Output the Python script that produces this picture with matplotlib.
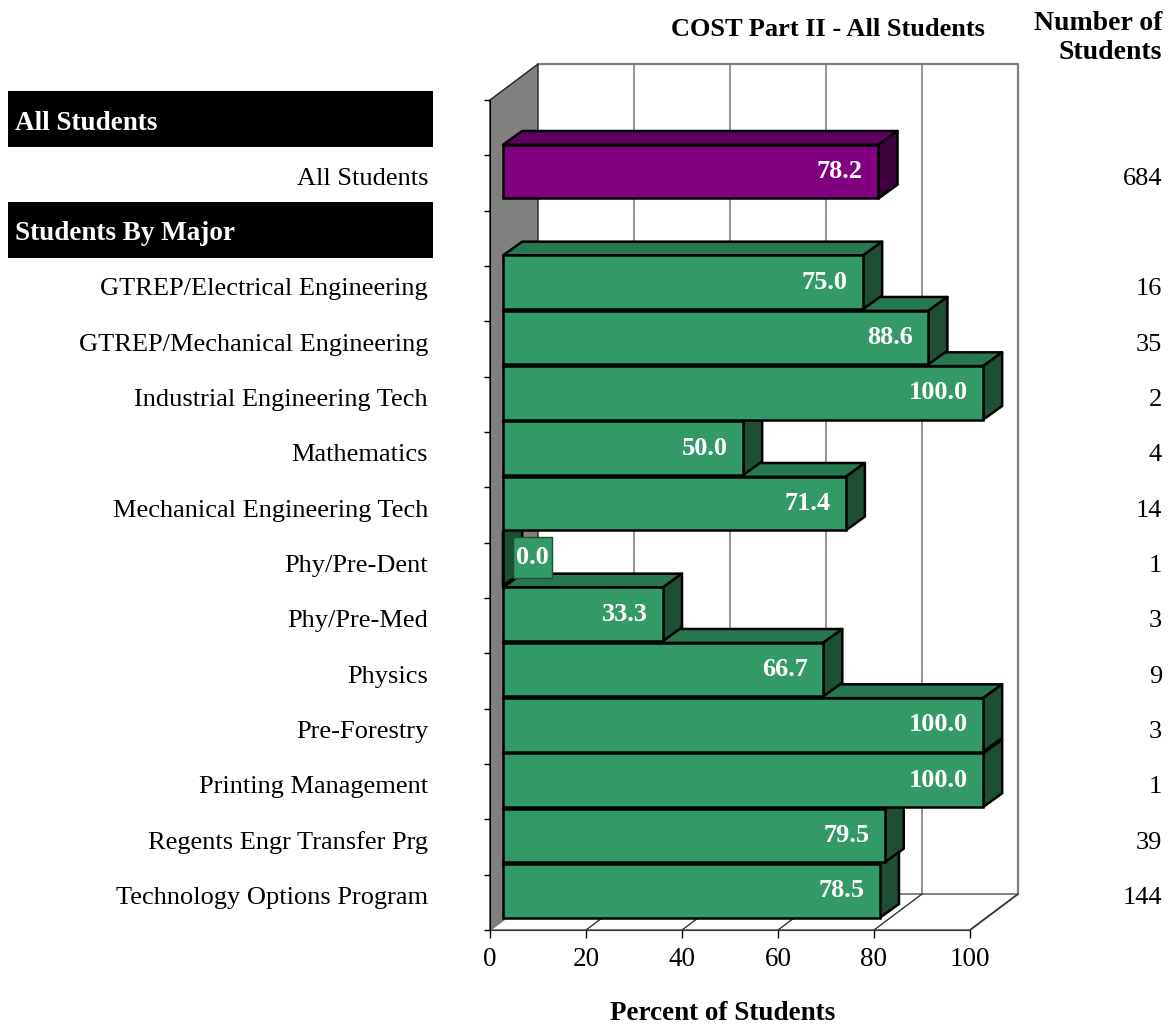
import matplotlib.pyplot as plt
from matplotlib.patches import Polygon, Rectangle

plt.rcParams['font.family'] = ['Liberation Serif', 'DejaVu Serif']

title = "COST Part II - All Students"
group_names = ["All Students", "Students By Major"]

overall_label = "All Students"
overall_pct = 78.2
overall_n = 684

majors = ["GTREP/Electrical Engineering", "GTREP/Mechanical Engineering",
          "Industrial Engineering Tech", "Mathematics",
          "Mechanical Engineering Tech", "Phy/Pre-Dent", "Phy/Pre-Med",
          "Physics", "Pre-Forestry", "Printing Management",
          "Regents Engr Transfer Prg", "Technology Options Program"]
major_pct = [75.0, 88.6, 100.0, 50.0, 71.4, 0.0, 33.3, 66.7, 100.0, 100.0, 79.5, 78.5]
major_n = [16, 35, 2, 4, 14, 1, 3, 9, 3, 1, 39, 144]

x_ticks = [0, 20, 40, 60, 80, 100]

# layout of the rows, top to bottom
rows = [("header", group_names[0], None, None, None),
        ("bar", overall_label, overall_pct, overall_n, "purple")]
rows.append(("header", group_names[1], None, None, None))
for name, p, n in zip(majors, major_pct, major_n):
    rows.append(("bar", name, p, n, "green"))
n_rows = len(rows)

colors = {
    "purple": ("#800080", "#5f005f", "#3f003f"),
    "green": ("#339966", "#277750", "#1d4f35"),
}

# 3d depth (data units)
DX, DY = 10, -0.65
BX0, BY0 = 2.7, -0.19
BDX, BDY = 4.0, -0.25
BH = 0.97

fig = plt.figure(figsize=(11.7, 10.24), dpi=100)
ax = fig.add_axes([490 / 1170, 1 - 930 / 1024, 480 / 1170, 830 / 1024])
ax.set_xlim(0, 100)
ax.set_ylim(n_rows, 0)
ax.patch.set_visible(False)
for s in ["top", "right"]:
    ax.spines[s].set_visible(False)
ax.spines["left"].set_color("black")
ax.spines["bottom"].set_color("#333333")

gray = "#808080"

# walls and floor
ax.add_patch(Rectangle((DX, DY), 100, n_rows, facecolor="white", edgecolor="none", zorder=0, clip_on=False))
ax.plot([DX, 100 + DX, 100 + DX], [DY, DY, n_rows + DY], color=gray, lw=1.6, zorder=0.5, clip_on=False)
for v in x_ticks[1:-1]:
    ax.plot([v + DX, v + DX], [DY, n_rows + DY], color=gray, lw=1.2, zorder=0.5, clip_on=False)
ax.add_patch(Polygon([(0, 0), (DX, DY), (DX, n_rows + DY), (0, n_rows)],
                     facecolor=gray, edgecolor="#222222", lw=1, zorder=0.6, clip_on=False))
ax.add_patch(Polygon([(0, n_rows), (100, n_rows), (100 + DX, n_rows + DY), (DX, n_rows + DY)],
                     facecolor="white", edgecolor=gray, lw=1.4, zorder=0.6, clip_on=False))
for v in x_ticks[1:]:
    ax.plot([v, v + DX], [n_rows, n_rows + DY], color="#333333", lw=1, zorder=0.7, clip_on=False)

# bars, bottom row first so upper bars sit on top
for i in range(n_rows - 1, -1, -1):
    kind, name, v, n, col = rows[i]
    if kind != "bar":
        continue
    front, top, side = colors[col]
    y0, y1 = i + BY0, i + BY0 + BH
    x0, x1 = BX0, BX0 + v
    ax.add_patch(Polygon([(x0, y0), (x1, y0), (x1 + BDX, y0 + BDY), (x0 + BDX, y0 + BDY)],
                         facecolor=top, edgecolor="black", lw=1.8, joinstyle="round", zorder=3, clip_on=False))
    ax.add_patch(Polygon([(x1, y0), (x1 + BDX, y0 + BDY), (x1 + BDX, y1 + BDY), (x1, y1)],
                         facecolor=side, edgecolor="black", lw=1.8, joinstyle="round", zorder=3, clip_on=False))
    ax.add_patch(Rectangle((x0, y0), v, BH, facecolor=front, edgecolor="black", lw=1.8, zorder=3, clip_on=False))
    if v > 5:
        ax.text(x1 - 3.2, (y0 + y1) / 2, f"{v:.1f}", color="white", fontsize=19, fontweight="bold",
                ha="right", va="center", zorder=4)
    else:
        # label box for an empty bar
        ax.add_patch(Rectangle((x1 + 2.1, i - 0.1), 8.1, 0.74, facecolor=front, edgecolor="#1d4f35",
                               lw=1, zorder=4, clip_on=False))
        ax.text(x1 + 2.1 + 4.05, i - 0.1 + 0.37, f"{v:.1f}", color="white", fontsize=19,
                fontweight="bold", ha="center", va="center", zorder=5)

# row labels, group headers and counts
yt = ax.get_yaxis_transform()
for i, (kind, name, v, n, col) in enumerate(rows):
    if kind == "header":
        ax.add_patch(Rectangle((-1.004, i - 0.16), 0.885, 1.01, transform=yt,
                               facecolor="black", edgecolor="none", clip_on=False))
        ax.text(-0.99, i + 0.42, name, transform=yt, color="white", fontsize=19.5,
                fontweight="bold", ha="left", va="center")
    else:
        ax.text(-0.129, i + 0.42, name, transform=yt, fontsize=19, ha="right", va="center")
        ax.text(1.40, i + 0.42, str(n), transform=yt, fontsize=19, ha="right", va="center")

ax.text(1.40, -1.12, "Number of\nStudents", transform=yt, fontsize=20, fontweight="bold",
        ha="right", va="center", linespacing=1.25)
ax.text(0.704, -1.27, title, transform=yt, fontsize=19, fontweight="bold", ha="center", va="center")
ax.text(0.485, n_rows + 1.5, "Percent of Students", transform=yt, fontsize=19.5,
        fontweight="bold", ha="center", va="center")

ax.set_xticks(x_ticks)
ax.set_xticklabels([str(t) for t in x_ticks], fontsize=19.5)
ax.set_yticks(range(n_rows + 1))
ax.set_yticklabels([])
ax.tick_params(axis="x", direction="out", length=6, width=1, pad=6)
ax.tick_params(axis="y", direction="out", length=4.5, width=1)

fig.savefig("out.png", dpi=100)
